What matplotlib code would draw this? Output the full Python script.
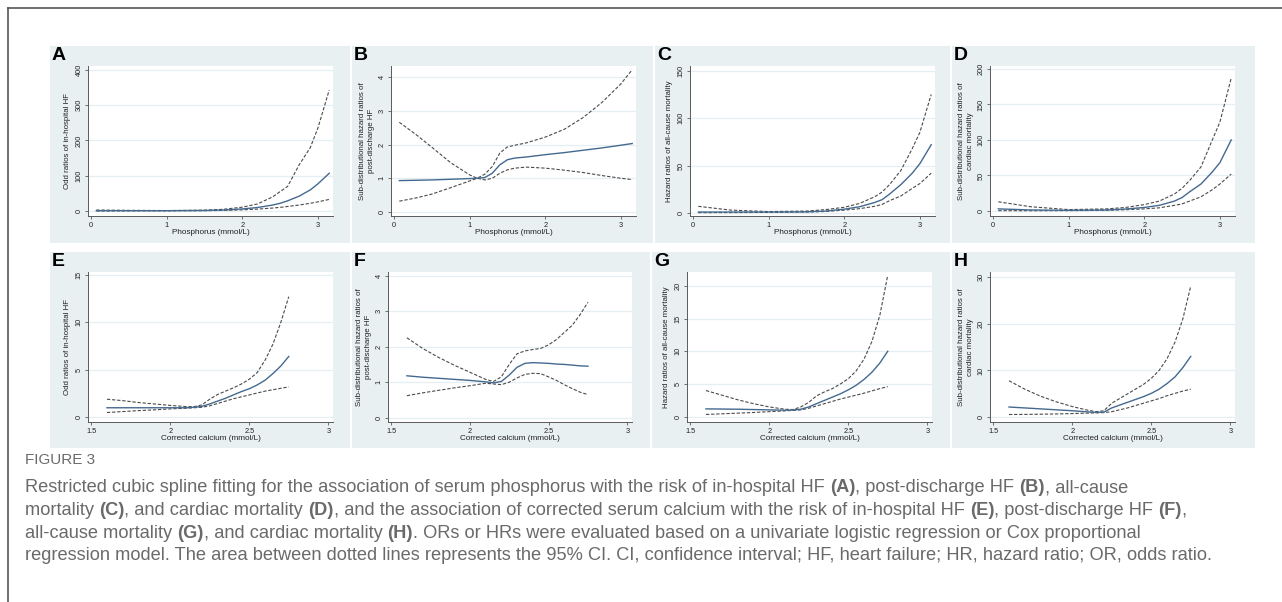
import re
import matplotlib
matplotlib.use("Agg")
import matplotlib.pyplot as plt
from matplotlib.patches import Rectangle
from matplotlib.lines import Line2D
from matplotlib import font_manager

W, H = 1282, 602

# ---------------- data ----------------
# phosphorus panels A, C, D
phos_x = [0.07, 0.5, 1.0, 1.5, 1.75, 2.0, 2.2, 2.4, 2.5, 2.6, 2.75, 2.9, 3.0, 3.15]
a_fit = [1, 1, 1, 1.6, 3, 6, 10, 17, 22, 29, 42, 60, 77, 107]
a_hi = [3, 2, 1.4, 2.6, 5, 11, 20, 40, 55, 70, 130, 180, 235, 343]
a_lo = [0.3, 0.5, 0.75, 1.0, 1.8, 3.5, 5.5, 8.5, 10.5, 13, 17, 22, 26, 33]

c_fit = [1, 1, 1, 1.2, 2, 4, 6.5, 11, 14, 20, 30, 42, 52, 72]
c_hi = [7, 3, 1.5, 2, 3.5, 6, 10, 17, 22, 30, 45, 68, 85, 125]
c_lo = [0.3, 0.4, 0.6, 1, 1.5, 3, 4.5, 7, 9, 13, 18, 26, 31, 42]

d_fit = [3, 1.5, 1, 1.5, 2.8, 5, 8, 14, 19, 27, 38, 55, 68, 100]
d_hi = [13, 6, 2, 3, 5, 9, 14, 24, 32, 43, 62, 100, 125, 187]
d_lo = [0.5, 0.4, 0.5, 1, 1.8, 3, 4.5, 8, 10, 14, 20, 30, 38, 52]

# phosphorus panel B
b_x = [0.07, 0.3, 0.5, 0.75, 1.0, 1.1, 1.2, 1.3, 1.4, 1.5, 1.6, 1.75, 2.0, 2.25, 2.5, 2.75, 3.0, 3.15]
b_fit = [0.93, 0.94, 0.95, 0.97, 0.99, 1.0, 1.02, 1.15, 1.4, 1.55, 1.6, 1.63, 1.7, 1.76, 1.83, 1.9, 1.98, 2.03]
b_hi = [2.66, 2.28, 1.92, 1.46, 1.1, 1.0, 1.12, 1.35, 1.75, 1.93, 1.98, 2.05, 2.22, 2.45, 2.8, 3.25, 3.8, 4.22]
b_lo = [0.32, 0.42, 0.53, 0.72, 0.92, 1.0, 0.95, 1.0, 1.15, 1.25, 1.3, 1.33, 1.3, 1.24, 1.17, 1.08, 1.0, 0.96]

# corrected calcium panels E-H
ca_x = [1.6, 1.7, 1.8, 1.9, 2.0, 2.1, 2.15, 2.2, 2.25, 2.3, 2.35, 2.4, 2.45, 2.5, 2.55, 2.6, 2.65, 2.7, 2.75]
e_fit = [1.0, 1.0, 1.0, 1.0, 1.0, 1.0, 1.05, 1.15, 1.4, 1.7, 2.0, 2.35, 2.7, 3.0, 3.4, 3.9, 4.6, 5.4, 6.4]
e_hi = [1.9, 1.75, 1.55, 1.4, 1.25, 1.12, 1.12, 1.3, 1.9, 2.4, 2.75, 3.1, 3.5, 4.0, 4.7, 6.0, 7.7, 10.0, 12.7]
e_lo = [0.5, 0.6, 0.7, 0.78, 0.88, 0.95, 1.0, 1.05, 1.2, 1.45, 1.7, 1.95, 2.15, 2.35, 2.55, 2.75, 2.9, 3.05, 3.2]

f_fit = [1.18, 1.14, 1.11, 1.08, 1.05, 1.01, 0.98, 1.02, 1.2, 1.42, 1.53, 1.55, 1.54, 1.53, 1.51, 1.5, 1.48, 1.46, 1.45]
f_hi = [2.25, 1.95, 1.7, 1.48, 1.28, 1.08, 1.02, 1.15, 1.5, 1.8, 1.88, 1.92, 1.95, 2.05, 2.2, 2.4, 2.6, 2.9, 3.25]
f_lo = [0.62, 0.7, 0.77, 0.84, 0.9, 0.97, 0.95, 0.93, 1.0, 1.12, 1.22, 1.25, 1.24, 1.15, 1.05, 0.93, 0.82, 0.72, 0.65]

g_fit = [1.2, 1.18, 1.15, 1.1, 1.05, 1.0, 1.02, 1.15, 1.5, 2.0, 2.5, 3.0, 3.5, 4.1, 4.8, 5.7, 6.8, 8.2, 10.0]
g_hi = [4.0, 3.3, 2.6, 2.0, 1.5, 1.15, 1.1, 1.5, 2.2, 3.2, 3.8, 4.3, 5.0, 5.8, 7.0, 8.8, 11.5, 15.5, 21.6]
g_lo = [0.35, 0.45, 0.55, 0.65, 0.78, 0.9, 0.97, 1.05, 1.3, 1.65, 2.0, 2.35, 2.7, 3.0, 3.3, 3.6, 3.95, 4.3, 4.6]

h_fit = [2.2, 2.0, 1.8, 1.6, 1.4, 1.15, 1.05, 1.1, 2.0, 2.6, 3.2, 3.8, 4.4, 5.1, 6.0, 7.2, 8.6, 10.6, 13.0]
h_hi = [7.8, 6.0, 4.5, 3.3, 2.3, 1.5, 1.2, 1.4, 3.0, 4.0, 5.0, 6.0, 7.0, 8.3, 10.0, 12.5, 16.0, 21.0, 28.0]
h_lo = [0.6, 0.62, 0.66, 0.72, 0.8, 0.9, 0.95, 1.0, 1.2, 1.6, 2.0, 2.5, 3.0, 3.5, 4.0, 4.6, 5.1, 5.6, 6.0]

letters = ["A", "B", "C", "D", "E", "F", "G", "H"]
ylabels = [
    "Odd ratios of in-hospital HF",
    "Sub-distributional hazard ratios of\npost-discharge HF",
    "Hazard ratios of all-cause mortality",
    "Sub-distributional hazard ratios of\ncardiac mortality",
    "Odd ratios of in-hospital HF",
    "Sub-distributional hazard ratios of\npost-discharge HF",
    "Hazard ratios of all-cause mortality",
    "Sub-distributional hazard ratios of\ncardiac mortality",
]
xlab_phos = "Phosphorus (mmol/L)"
xlab_ca = "Corrected calcium (mmol/L)"
phos_ticks = [0, 1, 2, 3]
ca_ticks = [1.5, 2, 2.5, 3]
ca_ticklabels = ["1.5", "2", "2.5", "3"]
yticks_all = [
    [0, 100, 200, 300, 400],
    [0, 1, 2, 3, 4],
    [0, 50, 100, 150],
    [0, 50, 100, 150, 200],
    [0, 5, 10, 15],
    [0, 1, 2, 3, 4],
    [0, 5, 10, 15, 20],
    [0, 10, 20, 30],
]
ylims = [(-14, 411), (-0.12, 4.33), (-3.2, 155), (-7, 204),
         (-0.5, 15.3), (-0.12, 4.1), (-0.8, 22.1), (-1.0, 31)]

caption_title = "FIGURE 3"
caption_lines = [
    "Restricted cubic spline fitting for the association of serum phosphorus with the risk of in-hospital HF (A), post-discharge HF (B), all-cause",
    "mortality (C), and cardiac mortality (D), and the association of corrected serum calcium with the risk of in-hospital HF (E), post-discharge HF (F),",
    "all-cause mortality (G), and cardiac mortality (H). ORs or HRs were evaluated based on a univariate logistic regression or Cox proportional",
    "regression model. The area between dotted lines represents the 95% CI. CI, confidence interval; HF, heart failure; HR, hazard ratio; OR, odds ratio.",
]

series = [
    (phos_x, a_fit, a_hi, a_lo), (b_x, b_fit, b_hi, b_lo),
    (phos_x, c_fit, c_hi, c_lo), (phos_x, d_fit, d_hi, d_lo),
    (ca_x, e_fit, e_hi, e_lo), (ca_x, f_fit, f_hi, f_lo),
    (ca_x, g_fit, g_hi, g_lo), (ca_x, h_fit, h_hi, h_lo),
]

# ---------------- layout (pixels, y from top) ----------------
bg_boxes = [(50, 46, 300, 197), (352, 46, 301, 197), (655, 46, 295, 197), (952, 46, 303, 197),
            (50, 252, 300, 196), (352, 252, 298, 196), (652, 252, 298, 196), (952, 252, 303, 196)]
plot_boxes = [(88, 66, 245, 150), (391, 66, 245, 150), (690, 66, 245, 150), (990, 66, 245, 150),
              (88, 272, 245, 150), (388, 272, 244, 150), (687, 272, 245, 150), (990, 272, 245, 150)]

BG = "#E8F0F2"
GRID = "#E6EEF1"
FIT = "#44698F"
CI = "#4a4a4a"
AX = "#5a5a5a"
CAP = "#6a6a6a"

plt.rcParams["font.family"] = ["Liberation Sans", "DejaVu Sans"]

fig = plt.figure(figsize=(W / 100, H / 100), dpi=100)
fig.patch.set_facecolor("white")


def fx(px):
    return px / W


def fy(py):
    return 1 - py / H


# frame lines (top and left)
fig.add_artist(Line2D([fx(8), 1.0], [fy(8), fy(8)], color="#555555", lw=1.2))
fig.add_artist(Line2D([fx(8), fx(8)], [fy(8), 0.0], color="#555555", lw=1.2))

for i in range(8):
    bx, by, bw, bh = bg_boxes[i]
    fig.add_artist(Rectangle((fx(bx), fy(by + bh)), bw / W, bh / H,
                             facecolor=BG, edgecolor="none", zorder=0))
    fig.text(fx(bx + 2), fy(by + 1), letters[i], fontsize=14, weight="bold",
             ha="left", va="top", color="black")

    px_, py_, pw, ph = plot_boxes[i]
    ax = fig.add_axes([fx(px_), fy(py_ + ph), pw / W, ph / H])
    ax.set_facecolor("white")
    x, fit, hi, lo = series[i]
    ax.plot(x, hi, color=CI, lw=0.8, ls=(0, (3, 1.6)))
    ax.plot(x, lo, color=CI, lw=0.8, ls=(0, (3, 1.6)))
    ax.plot(x, fit, color=FIT, lw=1.0)

    if i < 4:
        ax.set_xlim(-0.04, 3.2)
        ax.set_xticks(phos_ticks)
        ax.set_xticklabels([str(t) for t in phos_ticks])
        xl = xlab_phos
    else:
        ax.set_xlim(1.48, 3.03)
        ax.set_xticks(ca_ticks)
        ax.set_xticklabels(ca_ticklabels)
        xl = xlab_ca
    ax.set_ylim(*ylims[i])
    ax.set_yticks(yticks_all[i])
    ax.set_yticklabels([str(t) for t in yticks_all[i]])
    ax.yaxis.grid(True, color=GRID, lw=0.9)
    ax.set_axisbelow(True)
    for s in ("top", "right"):
        ax.spines[s].set_visible(False)
    for s in ("left", "bottom"):
        ax.spines[s].set_color(AX)
        ax.spines[s].set_linewidth(0.7)
    ax.tick_params(direction="out", length=2.5, width=0.6, color=AX,
                   labelsize=5.3, pad=1.5, labelcolor="#222222")
    ax.tick_params(axis="y", labelrotation=90)
    for lbl in ax.get_yticklabels():
        lbl.set_va("center")

    two = "\n" in ylabels[i]
    ax.text(-0.098 if two else -0.082, 0.5, ylabels[i], transform=ax.transAxes,
            rotation=90, ha="center", va="center", fontsize=5.7,
            multialignment="center", color="#222222", linespacing=1.25)
    ax.text(0.5, -0.113, xl, transform=ax.transAxes, ha="center", va="center",
            fontsize=5.9, color="#222222")

# ---------------- caption ----------------
names = {f.name for f in font_manager.fontManager.ttflist}
cap_family = "Liberation Sans Narrow" if "Liberation Sans Narrow" in names else "Liberation Sans"
r = fig.canvas.get_renderer()


def split_parts(line):
    out = []
    for piece in re.split(r"(\([A-H]\))", line):
        if piece:
            out.append((piece, bool(re.fullmatch(r"\([A-H]\)", piece))))
    return out


def line_width(parts, size):
    w = 0
    for s, b in parts:
        t = fig.text(0, 0, s, fontsize=size, family=cap_family,
                     weight="bold" if b else "normal")
        w += t.get_window_extent(r).width
        t.remove()
    return w


# fit the total caption width to the reference line ends
target = (1118 - 25) + (1238 - 25) + (1150 - 25) + (1168 - 25)
measured = sum(line_width(split_parts(l), 12) for l in caption_lines)
size = 12 * target / measured

t = fig.text(0, 0, caption_title, fontsize=11, family=cap_family)
tsize = 11 * 70 / t.get_window_extent(r).width
t.remove()
fig.text(fx(25), fy(460), caption_title, fontsize=tsize, family=cap_family,
         color=CAP, ha="left", va="center")

for k, line in enumerate(caption_lines):
    xpos = 25
    ypos = 488 + k * 22.5
    for s, b in split_parts(line):
        tt = fig.text(fx(xpos), fy(ypos), s, fontsize=size, family=cap_family,
                      weight="bold" if b else "normal", color=CAP,
                      ha="left", va="center")
        xpos += tt.get_window_extent(r).width

fig.savefig("out.png", dpi=100)
